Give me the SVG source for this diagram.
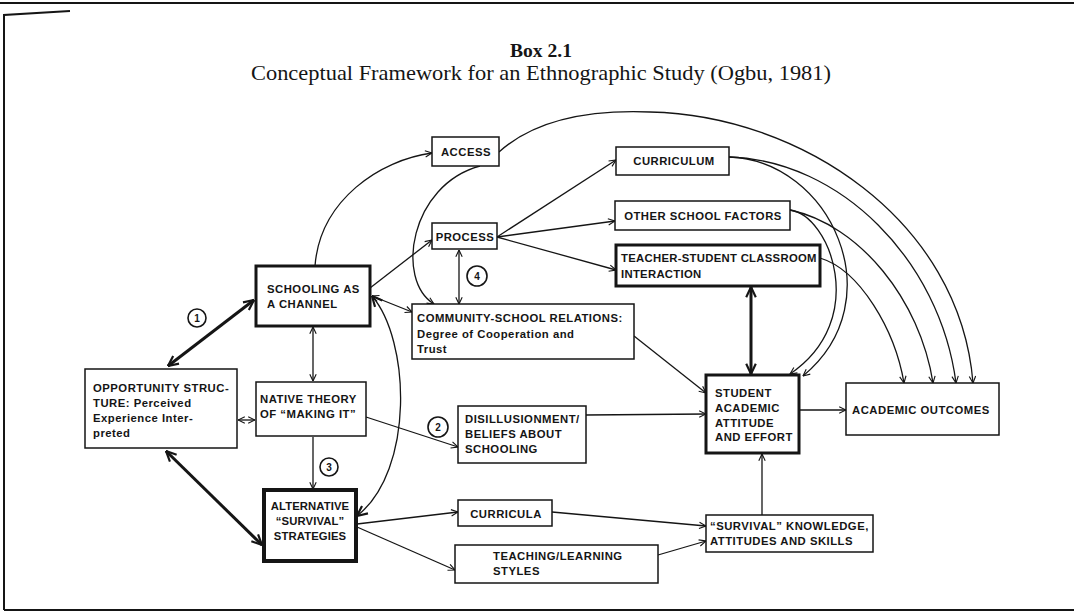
<svg xmlns="http://www.w3.org/2000/svg" width="1074" height="615" viewBox="0 0 1074 615">
  <style>
    .box { fill: #fff; stroke: #151515; stroke-width: 1.5; }
    .bold { stroke-width: 3; }
    .heavy { stroke-width: 4; }
    .lbl { font-family: "Liberation Sans", Arial, sans-serif; font-weight: bold; font-size: 11.3px; letter-spacing: 0.5px; fill: #151515; }
    .tight { letter-spacing: 0.1px; }
    .mid { text-anchor: middle; }
    .edge { fill: none; stroke: #151515; stroke-width: 1.3; }
    .thick { stroke-width: 3; }
    .num { fill: #fff; stroke: #151515; stroke-width: 1.6; }
    .numt { font-family: "Liberation Sans", Arial, sans-serif; font-weight: bold; font-size: 10px; text-anchor: middle; fill: #151515; }
    .frame { fill: none; stroke: #151515; stroke-width: 2; }
  </style>
  <defs>
    <marker id="arr" viewBox="0 0 10 10" refX="9.5" refY="5" markerWidth="8" markerHeight="8" markerUnits="userSpaceOnUse" orient="auto-start-reverse">
      <path d="M1,1 L9.5,5 L1,9" fill="none" stroke="#151515" stroke-width="1.4"/>
    </marker>
    <marker id="arrB" viewBox="0 0 10 10" refX="9.5" refY="5" markerWidth="12" markerHeight="12" markerUnits="userSpaceOnUse" orient="auto-start-reverse">
      <path d="M1,1 L9.5,5 L1,9" fill="none" stroke="#151515" stroke-width="1.8"/>
    </marker>
  </defs>

  <rect width="1074" height="615" fill="#fff"/>

  <!-- page frame -->
  <g id="frame">
    <line class="frame" x1="0" y1="3" x2="1074" y2="3"/>
    <path class="frame" d="M4,610 L4,15 L70,11"/>
    <line class="frame" x1="4" y1="610" x2="1074" y2="610"/>
  </g>

  <!-- heading -->
  <g id="title">
    <text x="541" y="57" text-anchor="middle" font-family="Liberation Serif, serif" font-weight="bold" font-size="18" textLength="62" lengthAdjust="spacingAndGlyphs" fill="#151515">Box 2.1</text>
    <text x="541" y="80" text-anchor="middle" font-family="Liberation Serif, serif" font-size="21" textLength="580" lengthAdjust="spacingAndGlyphs" fill="#151515">Conceptual Framework for an Ethnographic Study (Ogbu, 1981)</text>
  </g>

  <!-- connectors -->
  <g id="connectors">
    <line class="edge thick" x1="168" y1="366" x2="254" y2="300" marker-start="url(#arrB)" marker-end="url(#arrB)"/>
    <line class="edge thick" x1="166" y1="451" x2="262" y2="545" marker-start="url(#arrB)" marker-end="url(#arrB)" stroke-width="2.6"/>
    <line class="edge" x1="238" y1="420" x2="255" y2="420" marker-start="url(#arr)" marker-end="url(#arr)"/>
    <line class="edge" x1="313" y1="327" x2="313" y2="381" marker-start="url(#arr)" marker-end="url(#arr)"/>
    <line class="edge" x1="313" y1="437" x2="313" y2="489" marker-end="url(#arr)"/>
    <path class="edge" d="M372,296 C410,340 415,470 357,516" stroke-width="3.6" marker-start="url(#arrB)" marker-end="url(#arrB)"/>
    <path class="edge" d="M315,266 C320,200 380,160 432,153" marker-end="url(#arr)"/>
    <line class="edge" x1="370" y1="288" x2="432" y2="240" marker-end="url(#arr)"/>
    <line class="edge" x1="372" y1="296" x2="412" y2="312" marker-start="url(#arr)" marker-end="url(#arr)"/>
    <path class="edge" d="M480,166 C410,185 395,280 434,304" marker-end="url(#arr)"/>
    <line class="edge" x1="459" y1="250" x2="459" y2="304" marker-start="url(#arr)" marker-end="url(#arr)"/>
    <line class="edge" x1="497" y1="237" x2="616" y2="160" marker-end="url(#arr)"/>
    <line class="edge" x1="497" y1="237" x2="615" y2="221" marker-end="url(#arr)"/>
    <line class="edge" x1="497" y1="237" x2="616" y2="270" marker-end="url(#arr)"/>
    <line class="edge thick" x1="751" y1="287" x2="751" y2="374" marker-start="url(#arrB)" marker-end="url(#arrB)"/>
    <line class="edge" x1="634" y1="336" x2="706" y2="393" marker-end="url(#arr)"/>
    <line class="edge" x1="366" y1="417" x2="458" y2="447" marker-end="url(#arr)"/>
    <line class="edge" x1="586" y1="415" x2="706" y2="414" marker-end="url(#arr)"/>
    <line class="edge" x1="799" y1="410" x2="846" y2="410" marker-end="url(#arr)"/>
    <line class="edge" x1="762" y1="515" x2="762" y2="454" marker-end="url(#arr)"/>
    <line class="edge" x1="357" y1="524" x2="458" y2="512" marker-end="url(#arr)"/>
    <line class="edge" x1="357" y1="527" x2="455" y2="570" marker-end="url(#arr)"/>
    <line class="edge" x1="552" y1="512" x2="706" y2="526" marker-end="url(#arr)"/>
    <line class="edge" x1="658" y1="555" x2="706" y2="541" marker-end="url(#arr)"/>
    <!-- loops into student attitude -->
    <path class="edge" d="M729,157 C830,160 895,300 803,376" marker-end="url(#arr)"/>
    <path class="edge" d="M790,210 C830,215 870,320 790,374" marker-end="url(#arr)"/>
    <!-- arcs into academic outcomes -->
    <path class="edge" d="M820,258 C860,270 895,330 904,383" marker-end="url(#arr)"/>
    <path class="edge" d="M790,210 C860,225 920,300 933,383" marker-end="url(#arr)"/>
    <path class="edge" d="M729,157 C840,160 940,260 956,383" marker-end="url(#arr)"/>
    <path class="edge" d="M499,152 C540,115 600,110 650,112 C800,115 960,220 973,383" marker-end="url(#arr)"/>
  </g>

  <!-- nodes -->
  <g id="opportunity">
    <rect class="box" x="85" y="369" width="152" height="79" stroke-width="2.5"/>
    <text class="lbl" x="93" y="392">OPPORTUNITY STRUC-</text>
    <text class="lbl" x="93" y="407">TURE: Perceived</text>
    <text class="lbl" x="93" y="422">Experience Inter-</text>
    <text class="lbl" x="93" y="437">preted</text>
  </g>
  <g id="schooling">
    <rect class="box bold" x="256" y="266" width="114" height="60"/>
    <text class="lbl" x="267" y="293">SCHOOLING AS</text>
    <text class="lbl" x="267" y="308">A CHANNEL</text>
  </g>
  <g id="native-theory">
    <rect class="box" x="256" y="382" width="110" height="54"/>
    <text class="lbl" x="260" y="403">NATIVE THEORY</text>
    <text class="lbl" x="260" y="418">OF “MAKING IT”</text>
  </g>
  <g id="alternative">
    <rect class="box heavy" x="264" y="490" width="92" height="71"/>
    <text class="lbl mid tight" x="310" y="510">ALTERNATIVE</text>
    <text class="lbl mid tight" x="310" y="525">“SURVIVAL”</text>
    <text class="lbl mid tight" x="310" y="540">STRATEGIES</text>
  </g>
  <g id="access">
    <rect class="box" x="432" y="137" width="67" height="29"/>
    <text class="lbl mid" x="466" y="156">ACCESS</text>
  </g>
  <g id="process">
    <rect class="box" x="432" y="223" width="65" height="26"/>
    <text class="lbl mid" x="465" y="241">PROCESS</text>
  </g>
  <g id="curriculum">
    <rect class="box" x="616" y="147" width="113" height="28"/>
    <text class="lbl mid" x="674" y="165">CURRICULUM</text>
  </g>
  <g id="other-factors">
    <rect class="box" x="615" y="201" width="175" height="29"/>
    <text class="lbl mid" x="703" y="220">OTHER SCHOOL FACTORS</text>
  </g>
  <g id="teacher-student">
    <rect class="box bold" x="616" y="245" width="204" height="41"/>
    <text class="lbl" x="621" y="262" style="letter-spacing:0.3px">TEACHER-STUDENT CLASSROOM</text>
    <text class="lbl" x="621" y="278" style="letter-spacing:0.3px">INTERACTION</text>
  </g>
  <g id="community">
    <rect class="box" x="412" y="304" width="222" height="55"/>
    <text class="lbl" x="417" y="322">COMMUNITY-SCHOOL RELATIONS:</text>
    <text class="lbl" x="417" y="338">Degree of Cooperation and</text>
    <text class="lbl" x="417" y="353">Trust</text>
  </g>
  <g id="disillusionment">
    <rect class="box" x="458" y="406" width="128" height="57"/>
    <text class="lbl" x="465" y="423">DISILLUSIONMENT/</text>
    <text class="lbl" x="465" y="438">BELIEFS ABOUT</text>
    <text class="lbl" x="465" y="453">SCHOOLING</text>
  </g>
  <g id="student-attitude">
    <rect class="box bold" x="706" y="375" width="93" height="78"/>
    <text class="lbl" x="715" y="397">STUDENT</text>
    <text class="lbl" x="715" y="412">ACADEMIC</text>
    <text class="lbl" x="715" y="427">ATTITUDE</text>
    <text class="lbl" x="715" y="441">AND EFFORT</text>
  </g>
  <g id="outcomes">
    <rect class="box" x="846" y="383" width="153" height="52"/>
    <text class="lbl" x="852" y="414">ACADEMIC OUTCOMES</text>
  </g>
  <g id="curricula">
    <rect class="box" x="458" y="500" width="94" height="26"/>
    <text class="lbl mid" x="506" y="518">CURRICULA</text>
  </g>
  <g id="teaching-styles">
    <rect class="box" x="455" y="545" width="203" height="38"/>
    <text class="lbl" x="493" y="560">TEACHING/LEARNING</text>
    <text class="lbl" x="493" y="575">STYLES</text>
  </g>
  <g id="survival-knowledge">
    <rect class="box" x="706" y="515" width="167" height="37"/>
    <text class="lbl" x="710" y="530">“SURVIVAL” KNOWLEDGE,</text>
    <text class="lbl" x="710" y="545">ATTITUDES AND SKILLS</text>
  </g>

  <!-- numbered markers -->
  <g id="marker-1">
    <circle class="num" cx="197" cy="318" r="9"/>
    <text class="numt" x="197" y="322">1</text>
  </g>
  <g id="marker-2">
    <circle class="num" cx="438" cy="427" r="10"/>
    <text class="numt" x="438" y="431">2</text>
  </g>
  <g id="marker-3">
    <circle class="num" cx="329" cy="467" r="9"/>
    <text class="numt" x="329" y="471">3</text>
  </g>
  <g id="marker-4">
    <circle class="num" cx="477" cy="276" r="10"/>
    <text class="numt" x="477" y="280">4</text>
  </g>
</svg>
